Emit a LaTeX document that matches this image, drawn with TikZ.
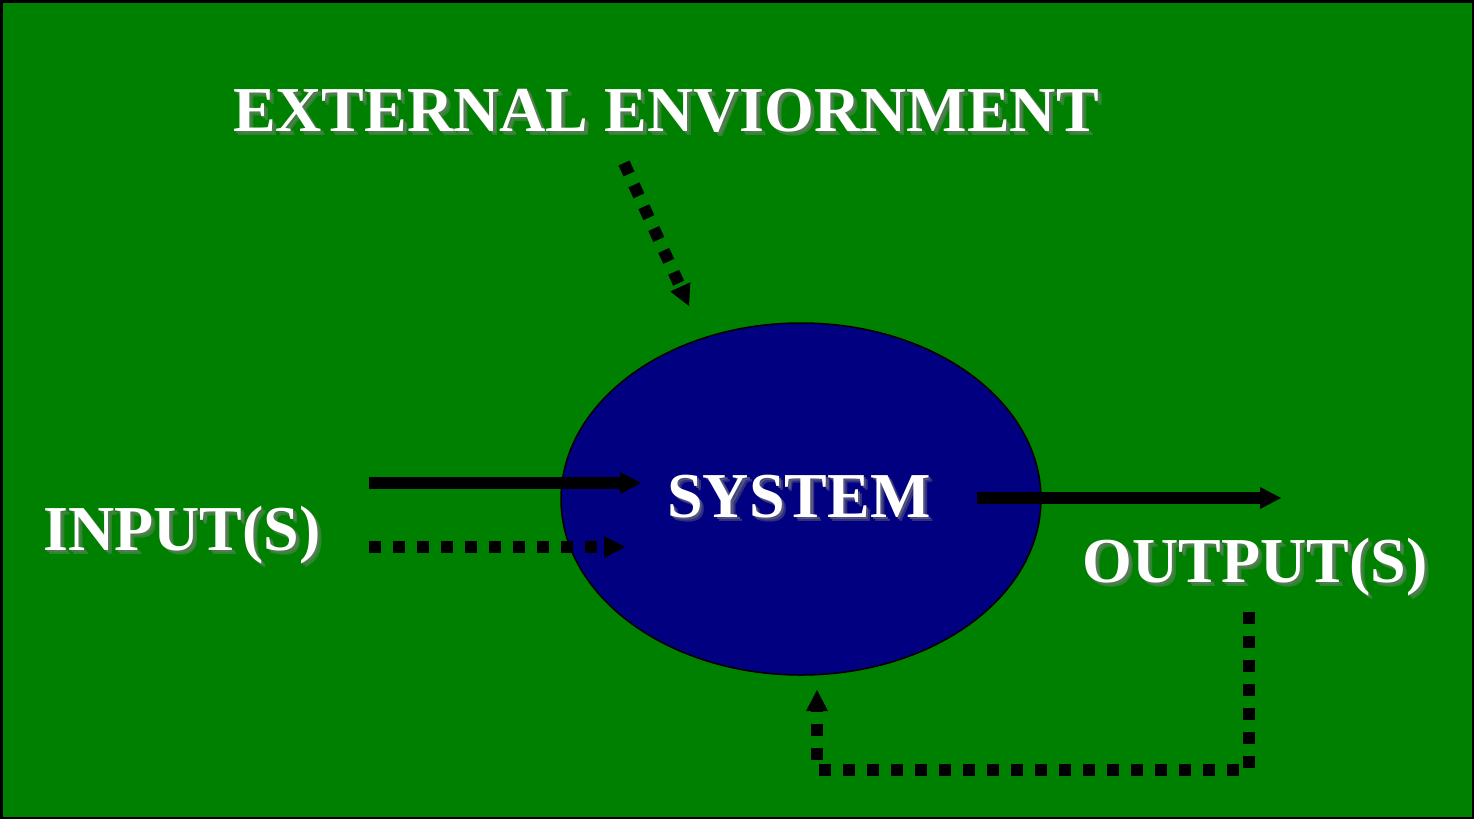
\documentclass[tikz,border=0pt]{standalone}
\usepackage{fontspec}
\setmainfont{Liberation Serif}
\usetikzlibrary{arrows.meta,shapes.geometric}
\definecolor{bggreen}{RGB}{0,128,0}
\definecolor{sysblue}{RGB}{0,0,128}
\begin{document}
\begin{tikzpicture}[x=1pt,y=-1pt,
  lbl/.style={font=\fontsize{64}{64}\selectfont\bfseries, text=white, inner sep=0pt, anchor=base},
  shd/.style={lbl, text=black!55, opacity=0.6},
  shdb/.style={lbl, text=black!40, opacity=0.3},
  tip/.style={-{Triangle[length=21pt,width=22pt,line width=0pt 0 0]}},
  solidarrow/.style={line width=12pt, tip},
  dotarrow/.style={line width=12pt, dash pattern=on 12pt off 12pt, tip}]
\useasboundingbox (0,0) rectangle (1474,819);
\fill[bggreen] (0,0) rectangle (1474,819);
\draw[line width=2.5pt] (1.25,1.25) rectangle (1472.75,817.75);

% system ellipse
\node[ellipse, draw=black, line width=1.5pt, fill=sysblue, minimum width=480pt, minimum height=352pt, inner sep=0pt] (sys) at (801,499) {};

% labels with soft shadows
\node[shdb] (extS2) at (670,135) {EXTERNAL ENVIORNMENT};
\node[shd] (extS) at (668.5,133.5) {EXTERNAL ENVIORNMENT};
\node[lbl] (ext) at (666,131) {EXTERNAL ENVIORNMENT};
\node[shdb] (inS2) at (186,554) {INPUT(S)};
\node[shd] (inS) at (184.5,552.5) {INPUT(S)};
\node[lbl] (in) at (182,550) {INPUT(S)};
\node[shdb] (sysS2) at (803,521) {SYSTEM};
\node[shd] (sysS) at (801.5,519.5) {SYSTEM};
\node[lbl] (syst) at (799,517) {SYSTEM};
\node[shdb] (outS2) at (1259,586) {OUTPUT(S)};
\node[shd] (outS) at (1257.5,584.5) {OUTPUT(S)};
\node[lbl] (out) at (1255,582) {OUTPUT(S)};

% connector end points
\coordinate (extA) at (624,163);
\coordinate (extB) at (689,306);
\coordinate (inA1) at (369,483);
\coordinate (inB1) at (641,483);
\coordinate (inA2) at (369,547);
\coordinate (inB2) at (625,547);
\coordinate (outA) at (977,498);
\coordinate (outB) at (1281,498);
\coordinate (fbA) at (1249,612);
\coordinate (fbC1) at (1249,770);
\coordinate (fbC2) at (817,770);
\coordinate (fbB) at (817,690);

\draw[dotarrow] (extA) -- (extB);
\draw[solidarrow] (inA1) -- (inB1);
\draw[dotarrow] (inA2) -- (inB2);
\draw[solidarrow] (outA) -- (outB);
\draw[dotarrow] (fbA) -- (fbC1) -- (fbC2) -- (fbB);
\end{tikzpicture}
\end{document}
